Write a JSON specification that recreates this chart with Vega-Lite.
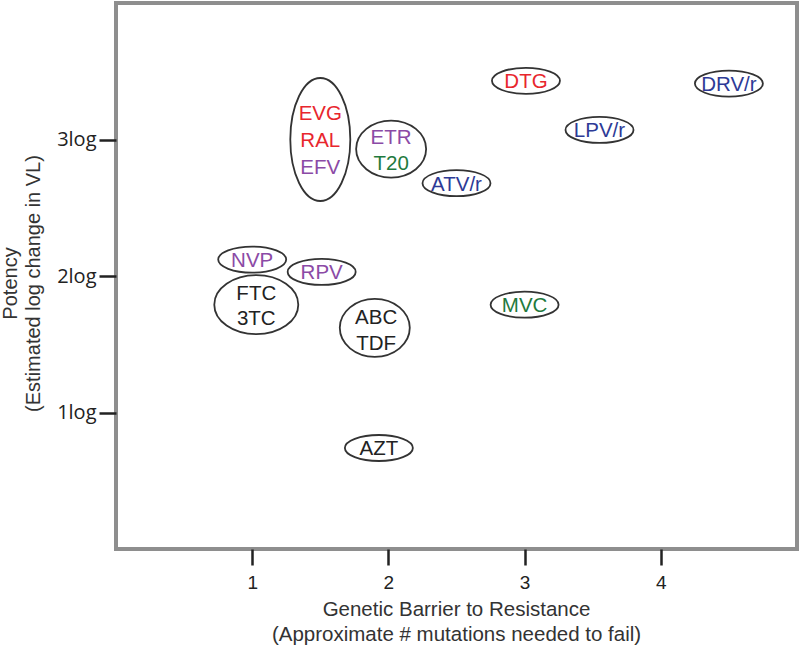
{
  "$schema": "https://vega.github.io/schema/vega-lite/v6.json",
  "autosize": "none",
  "width": 681,
  "height": 546,
  "padding": {"left": 116, "top": 3, "right": 3, "bottom": 96},
  "background": "white",
  "config": {
    "view": {"stroke": "#8e8e8e", "strokeWidth": 4},
    "axis": {"grid": false, "domain": false, "tickColor": "#222", "tickWidth": 2.5, "labelColor": "#222", "titleColor": "#333", "titleFontWeight": "normal"}
  },
  "datasets": {
    "ellipses": [
      {"group": "EVG/RAL/EFV", "x": 1.5, "y": 3.0, "outline": "tall"},
      {"group": "ETR/T20", "x": 2.02, "y": 2.93, "outline": "pair-etr"},
      {"group": "DTG", "x": 3.01, "y": 3.43, "outline": "single"},
      {"group": "DRV/r", "x": 4.5, "y": 3.41, "outline": "single"},
      {"group": "LPV/r", "x": 3.55, "y": 3.07, "outline": "single"},
      {"group": "ATV/r", "x": 2.5, "y": 2.68, "outline": "single"},
      {"group": "NVP", "x": 1.0, "y": 2.12, "outline": "single"},
      {"group": "RPV", "x": 1.51, "y": 2.03, "outline": "single"},
      {"group": "FTC/3TC", "x": 1.03, "y": 1.79, "outline": "pair-ftc"},
      {"group": "ABC/TDF", "x": 1.9, "y": 1.62, "outline": "pair-abc"},
      {"group": "MVC", "x": 3.0, "y": 1.79, "outline": "single"},
      {"group": "AZT", "x": 1.93, "y": 0.74, "outline": "single"}
    ],
    "labels": [
      {"label": "EVG", "x": 1.5, "y": 3.19, "cls": "INSTI"},
      {"label": "RAL", "x": 1.5, "y": 2.99, "cls": "INSTI"},
      {"label": "EFV", "x": 1.5, "y": 2.79, "cls": "NNRTI"},
      {"label": "ETR", "x": 2.02, "y": 3.01, "cls": "NNRTI"},
      {"label": "T20", "x": 2.02, "y": 2.82, "cls": "Entry"},
      {"label": "DTG", "x": 3.01, "y": 3.42, "cls": "INSTI"},
      {"label": "DRV/r", "x": 4.5, "y": 3.4, "cls": "PI"},
      {"label": "LPV/r", "x": 3.55, "y": 3.06, "cls": "PI"},
      {"label": "ATV/r", "x": 2.5, "y": 2.67, "cls": "PI"},
      {"label": "NVP", "x": 1.0, "y": 2.11, "cls": "NNRTI"},
      {"label": "RPV", "x": 1.51, "y": 2.02, "cls": "NNRTI"},
      {"label": "FTC", "x": 1.03, "y": 1.87, "cls": "NRTI"},
      {"label": "3TC", "x": 1.03, "y": 1.685, "cls": "NRTI"},
      {"label": "ABC", "x": 1.91, "y": 1.69, "cls": "NRTI"},
      {"label": "TDF", "x": 1.91, "y": 1.5, "cls": "NRTI"},
      {"label": "MVC", "x": 3.0, "y": 1.78, "cls": "Entry"},
      {"label": "AZT", "x": 1.93, "y": 0.73, "cls": "NRTI"}
    ]
  },
  "encoding": {
    "x": {
      "field": "x", "type": "quantitative",
      "scale": {"domain": [0, 5], "nice": false, "zero": false},
      "axis": {
        "values": [1, 2, 3, 4], "tickSize": 16, "labelPadding": 8,
        "labelFont": "Liberation Sans", "labelFontSize": 19,
        "title": ["Genetic Barrier to Resistance", "(Approximate # mutations needed to fail)"],
        "titleFont": "Liberation Sans", "titleFontSize": 20.5, "titleLineHeight": 25,
        "titleBaseline": "top", "titleY": 50, "titleX": 340, "titleAnchor": null, "titleAlign": "center"
      }
    },
    "y": {
      "field": "y", "type": "quantitative",
      "scale": {"domain": [0, 4], "nice": false, "zero": false},
      "axis": {
        "values": [1, 2, 3], "labelExpr": "datum.value + 'log'", "tickSize": 17, "labelPadding": 3,
        "labelFont": "Open Sans", "labelFontSize": 20,
        "title": ["Potency", "(Estimated log change in VL)"],
        "titleFont": "Liberation Sans", "titleFontSize": 20, "titleLineHeight": 23,
        "titleAngle": -90, "titleBaseline": "top", "titleAlign": "center",
        "titleX": -116, "titleY": 280, "titleAnchor": null
      }
    }
  },
  "layer": [
    {
      "data": {"name": "ellipses"},
      "mark": {"type": "point", "filled": false, "stroke": "#333", "strokeWidth": 1.8, "opacity": 1, "size": 10000},
      "encoding": {
        "shape": {
          "field": "outline", "type": "nominal", "legend": null,
          "scale": {
            "domain": ["single", "tall", "pair-etr", "pair-ftc", "pair-abc"],
            "range": [
              "M -0.68 0 A 0.68 0.26 0 1 0 0.68 0 A 0.68 0.26 0 1 0 -0.68 0 Z",
              "M -0.6 0 A 0.6 1.23 0 1 0 0.6 0 A 0.6 1.23 0 1 0 -0.6 0 Z",
              "M -0.7 0 A 0.7 0.57 0 1 0 0.7 0 A 0.7 0.57 0 1 0 -0.7 0 Z",
              "M -0.84 0 A 0.84 0.59 0 1 0 0.84 0 A 0.84 0.59 0 1 0 -0.84 0 Z",
              "M -0.7 0 A 0.7 0.58 0 1 0 0.7 0 A 0.7 0.58 0 1 0 -0.7 0 Z"
            ]
          }
        }
      }
    },
    {
      "data": {"name": "labels"},
      "mark": {"type": "text", "font": "Liberation Sans", "fontSize": 20.5, "baseline": "middle", "align": "center"},
      "encoding": {
        "text": {"field": "label", "type": "nominal"},
        "color": {
          "field": "cls", "type": "nominal", "legend": null,
          "scale": {
            "domain": ["INSTI", "NNRTI", "NRTI", "PI", "Entry"],
            "range": ["#e8262d", "#8b4aa6", "#222222", "#2d3a96", "#1f7a3e"]
          }
        }
      }
    }
  ]
}
